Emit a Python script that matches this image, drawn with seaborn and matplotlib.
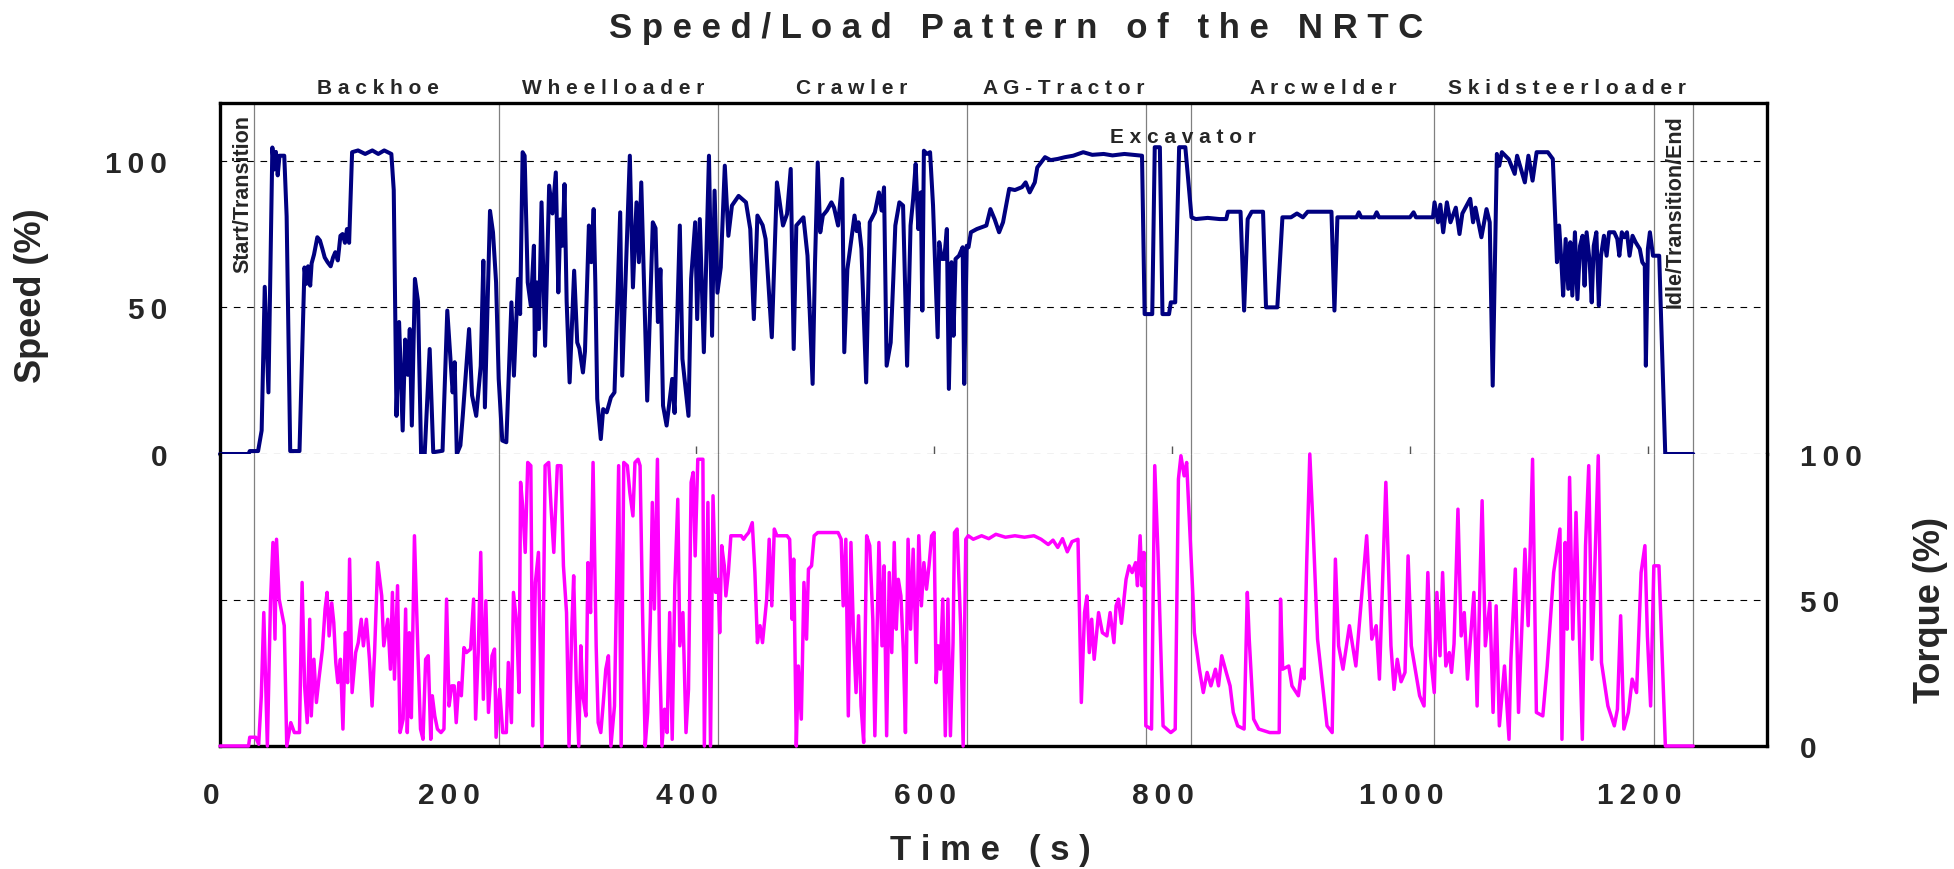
import matplotlib
matplotlib.use("Agg")
import matplotlib.pyplot as plt
import matplotlib.transforms as mtransforms
import numpy as np
import pandas as pd
import seaborn as sns

# ---------------- data ----------------
speed_time = [0, 24, 25, 32, 35, 37.6, 40.7, 44, 45.5, 47, 48.5, 50, 54, 56, 59, 66.8, 71, 72.5, 74, 75.8, 77, 79, 81.8, 84, 86, 88, 90.4, 93, 95, 96.9, 99, 101.2, 103, 105, 106.7, 108.5, 111, 116, 122, 128, 133, 138, 144, 146, 148.3, 150.5, 153.5, 155.6, 157.8, 159.5, 161.2, 163.8, 166.4, 169, 172, 176.2, 179.2, 187, 191, 195.5, 197.2, 199, 202, 204, 209.3, 211.8, 215.3, 219.1, 221.3, 222.6, 226.9, 229.4, 232, 234.2, 237.2, 240.6, 244.9, 247, 250.4, 252.2, 254.3, 256, 258.6, 261.2, 263.8, 264.6, 266.3, 268, 270.2, 273.2, 276.6, 279.4, 282.2, 284.3, 286, 287.8, 289.5, 291.3, 293.8, 297.6, 300.2, 302, 305, 306.7, 310, 312, 314, 315.4, 317, 320, 322, 325, 328.5, 331.5, 336.3, 338, 344.4, 347, 350, 352, 354, 359, 363.7, 366, 368, 370.1, 372.3, 375.3, 380, 382, 386.4, 388.6, 393.7, 395.9, 399.3, 401, 403.2, 406.6, 410.9, 413.5, 415.6, 418, 420.8, 424.2, 427.2, 430.2, 435.8, 442, 445.6, 448.6, 451.6, 456, 458.5, 463.7, 468, 473.1, 476.5, 479.6, 482.1, 484.3, 490.3, 493.7, 498, 500, 502.3, 504.4, 506.6, 510, 513.8, 516, 519.4, 522.9, 524.6, 527.2, 530.6, 533.2, 535, 536.6, 539, 543, 546, 550.3, 553.7, 556, 558, 560.2, 563.6, 565.8, 567.5, 570.9, 574, 577.4, 580.3, 582.5, 584.6, 586.8, 588.9, 590.2, 591.5, 594, 596.7, 599.2, 603.1, 604.4, 606.5, 608.6, 610.8, 612.5, 614.7, 616.4, 618.1, 621, 624.1, 625.4, 627.5, 629, 631, 636, 644, 647.4, 651, 654.7, 658, 663.2, 668, 674, 677, 680.4, 684.7, 686.8, 693.3, 698, 704, 710, 717, 725.4, 733, 742.6, 750, 760, 774.8, 777, 783.4, 785.5, 789.8, 792, 797.5, 799, 802.7, 806, 811.2, 816.4, 820, 830, 840, 845.6, 847, 857.6, 860.6, 863.6, 867, 876.5, 879, 888.5, 892.8, 900, 905, 910, 914, 923, 934, 936.5, 939, 955, 957, 959, 970, 972, 974, 1000, 1003, 1005, 1019.3, 1020.6, 1023.6, 1025.5, 1027.9, 1031, 1034, 1038.5, 1041.6, 1044, 1050.6, 1053, 1055, 1060, 1064.3, 1067, 1069.5, 1073, 1075, 1077.2, 1083, 1088, 1090, 1096.5, 1099.5, 1103, 1106.4, 1115.8, 1120, 1123.5, 1125.3, 1127.4, 1128.7, 1130.8, 1133, 1134.7, 1136.4, 1138.6, 1140.7, 1142.9, 1145, 1146.7, 1148.4, 1151, 1152.7, 1154.4, 1156.6, 1158.7, 1160.5, 1163, 1165.2, 1167.3, 1171.6, 1174.2, 1175.9, 1178, 1180.2, 1182.3, 1184.5, 1187, 1189.6, 1193.1, 1195.2, 1197.3, 1198.2, 1199.9, 1201.6, 1204.2, 1209.4, 1214.5, 1238]
speed_pct = [0, 0, 1, 1, 8, 57, 21, 104.5, 97, 103, 95, 101.7, 101.7, 81, 1, 1, 63.6, 58, 64, 57.4, 65, 68, 73.9, 72.8, 70, 67, 65.4, 64, 67, 68.8, 66, 74.4, 75, 72, 76.7, 72, 102.9, 103.5, 102.3, 103.5, 102.3, 103.5, 102.3, 90, 13, 45, 8, 39, 27, 42.6, 9.7, 59.7, 52, 0, 0, 35.8, 0.6, 1.1, 48.9, 21, 31.3, 0, 2.9, 13, 42.6, 20, 13, 30, 65.9, 15.9, 82.9, 75.6, 58.5, 25.6, 4.6, 4, 51.7, 26.7, 59.7, 47.7, 102.9, 101.7, 58.5, 50.6, 71, 33.5, 58.5, 42.6, 85.8, 36.9, 91.5, 82, 96, 55.1, 80, 71, 92, 52, 24.4, 62.5, 38, 36, 27.8, 35, 77.9, 65.4, 83.5, 58.5, 18.8, 5.1, 15.3, 14.2, 19.3, 21, 82.4, 26.7, 101.7, 56.8, 85.8, 65.4, 92.6, 18.2, 79, 77, 45, 63, 16.5, 9.7, 25.6, 14, 77.9, 32.4, 13, 59.7, 79, 46, 80.1, 34.7, 101.7, 40.3, 89.8, 55, 63.6, 98.3, 74.4, 84.7, 88, 85.8, 76.7, 46, 81.3, 78, 73.3, 39.8, 92.6, 77.9, 81.8, 97.2, 35.8, 77.9, 80.7, 67.6, 23.9, 65, 99.4, 75.6, 81.3, 83, 85.8, 84, 77.9, 93.8, 34.7, 63, 73.3, 81.3, 76, 79, 70, 24.4, 79, 82.4, 89.2, 83, 90.9, 30.1, 38, 59.7, 77.9, 85.8, 84.7, 30.1, 77.9, 87, 98.9, 76.7, 89.2, 48.9, 103.4, 102.3, 102.9, 84.7, 39.8, 72.2, 66.5, 66.5, 76.7, 22.2, 65.4, 40.3, 66.5, 67.6, 70.5, 23.9, 71, 70.5, 75.6, 76.7, 77.9, 83.5, 80, 75.6, 79, 90.4, 90, 91, 92.6, 89.2, 92.6, 97.7, 101.2, 100.2, 100.6, 101.2, 101.7, 102.9, 102, 102.3, 101.8, 102.3, 101.7, 47.7, 47.7, 104.6, 104.6, 47.7, 47.7, 51.7, 51.7, 104.6, 104.6, 80.7, 80.1, 80.5, 80.1, 80.1, 82.6, 82.6, 48.9, 80.1, 82.6, 82.6, 50, 50, 80.7, 80.7, 82, 80.7, 82.6, 82.6, 82.6, 48.9, 80.7, 80.7, 82.4, 80.7, 80.7, 82.4, 80.7, 80.7, 82.4, 80.7, 80.7, 85.8, 79, 85, 75.6, 85.8, 79, 84, 75, 82, 87, 79, 84, 73.9, 83.5, 79, 23.3, 102.3, 98.3, 102.9, 100.5, 95.5, 101.7, 92.6, 101.7, 93.2, 102.9, 102.9, 100.6, 65.4, 77.9, 64.2, 54, 73.3, 56.3, 72.2, 54, 75.6, 52.8, 71, 74.4, 57.4, 75.6, 65.4, 51.7, 71, 75.6, 50.6, 67.6, 74.4, 67.6, 75.6, 75.6, 73.3, 67.6, 75.6, 73.9, 75.6, 67.6, 74.4, 72.2, 69.9, 65.4, 64.2, 30.1, 69.9, 75.6, 67.6, 67.6, 0, 0]

torque_time = [0, 24, 25, 30, 32.5, 34.7, 36.8, 39.8, 42.4, 44.5, 46.2, 47.5, 49.7, 54, 56.1, 59.5, 62.5, 66.8, 69, 71.1, 73.3, 75.4, 76.7, 78.9, 81, 83.1, 86.1, 88.3, 90, 91.7, 93.9, 95.6, 97.3, 99, 101.2, 103.3, 105.4, 107.2, 108.9, 111, 114, 116.2, 118.7, 120.5, 123, 125.6, 127.8, 129.9, 132.5, 135.9, 137.6, 141, 143.2, 144.9, 146.6, 149.2, 151.3, 153.9, 156, 157.4, 159.1, 160.8, 163.4, 166.4, 168.5, 170.6, 172.8, 175, 177.1, 178.4, 180.5, 182.7, 185.7, 188.2, 190.4, 192.5, 194.7, 196.8, 198.5, 200.7, 202.8, 205, 207.1, 210.6, 213.1, 214.8, 217, 219.1, 221.3, 223.4, 225.6, 228.6, 230.7, 232, 235, 237.6, 240.6, 242.3, 244.9, 246.6, 249.2, 251.3, 252.6, 254.3, 256.5, 258.6, 261.2, 262.9, 265, 267.6, 270.6, 273.2, 276.2, 278.3, 280.5, 283.5, 286.5, 288.6, 291.2, 293.3, 295.5, 297.2, 299.3, 301.5, 303.2, 304.9, 307.5, 309.2, 311.4, 313.5, 316.1, 317.8, 320, 322.1, 324.2, 326.4, 328.5, 331.5, 335, 337.1, 339.3, 342.3, 344.4, 347, 348.7, 351.3, 353, 355.1, 357.3, 359.4, 361.6, 363.3, 365, 367.6, 369.3, 371.4, 373.6, 375.7, 377.9, 380, 382.2, 384.7, 386.4, 389, 391.6, 393.7, 395.9, 397.6, 399.3, 401.5, 405.8, 407, 410, 412.2, 414.3, 416.5, 418.6, 419.9, 421.6, 423.8, 425.1, 427.2, 429.3, 438, 440, 442, 444.3, 447.3, 449.5, 451.6, 453.8, 455.9, 459.4, 461.5, 463.7, 465.8, 468, 476.5, 478.7, 480.8, 482.1, 484.3, 486, 488.5, 490.7, 492.9, 494.5, 497.1, 499.3, 502.3, 519.4, 522, 523.7, 525.9, 528, 530.2, 532.3, 534.5, 536.6, 538.7, 540.9, 543.4, 546, 548.6, 550.3, 553.7, 556.3, 558, 560.2, 562.4, 564.5, 566.6, 568.3, 570, 572.2, 574.3, 576, 578.2, 580.3, 582.5, 585.1, 587.2, 589.4, 591.5, 593.7, 595.8, 598, 600.1, 601.8, 603.5, 605.2, 607.4, 609.5, 611.7, 613.8, 616, 617.2, 619.4, 622.4, 624.5, 626.7, 628.8, 633, 640, 646, 652, 660, 668, 676, 684, 690, 696, 700, 704, 708, 712, 716, 721, 723.8, 726.5, 728.5, 730.5, 732.5, 734.6, 738.3, 741.5, 745.3, 748, 751.2, 753, 755, 757.5, 761.4, 764, 766.5, 769.4, 771, 773.2, 774.8, 776.4, 778, 782.8, 785.5, 788.2, 792.5, 799, 802.7, 805.4, 807.5, 810.2, 812.3, 817.7, 818.8, 823, 826.3, 829.5, 832.7, 836.5, 839.1, 841.8, 845.6, 848.8, 851.5, 855.2, 860.6, 863.3, 864.9, 868.6, 872.9, 882.1, 890.1, 891.2, 893, 898.1, 900.8, 906.2, 908.9, 911, 913.2, 915.8, 918.5, 920.7, 922.3, 930.3, 934.6, 937.3, 940, 943.7, 949.1, 954.5, 963.6, 967.9, 971.6, 974.3, 979.7, 984, 986.6, 989.3, 992.5, 995.8, 998.4, 1001.1, 1008.1, 1011.8, 1015, 1017.2, 1020.4, 1022.6, 1025.2, 1027.4, 1030.1, 1033, 1034.9, 1037, 1040.3, 1043, 1045.6, 1048.3, 1053.7, 1056.4, 1059, 1060.6, 1063.3, 1067.1, 1069.8, 1072.4, 1075.1, 1079.4, 1083.2, 1084.8, 1088.5, 1091.2, 1096.6, 1099.3, 1103, 1106.2, 1111.6, 1115.3, 1120.7, 1126, 1127.7, 1130.4, 1132, 1134.1, 1136.8, 1139.5, 1144.8, 1147.5, 1150.2, 1152.9, 1158.2, 1160.9, 1166.3, 1171.7, 1174.3, 1177, 1179.7, 1183.5, 1186.7, 1190.4, 1194.2, 1197.4, 1199.5, 1202.2, 1204.9, 1209.2, 1214.6, 1238]
torque_pct = [0, 0, 3, 3, 0.6, 17, 45.7, 0, 49, 69.7, 36.6, 70.8, 50.3, 41.2, 0, 8, 4.6, 4.6, 56, 20.6, 8, 43.4, 10.3, 29.7, 14.9, 22.9, 33.2, 46.9, 52.6, 37.7, 49, 42.3, 28.6, 21.7, 29.7, 5.8, 38.8, 21.7, 64, 18.3, 32, 35.4, 43.4, 34.3, 43.4, 29.7, 13.7, 32, 62.8, 51.4, 34.3, 43.4, 26.3, 52.6, 22.9, 54.9, 4.6, 9.2, 46.9, 4.6, 38.8, 9.7, 72, 30.9, 5.8, 2.3, 29.7, 30.9, 2.3, 17.2, 10.3, 5.8, 4.6, 5.8, 50.3, 13.7, 20.6, 20.6, 8, 21.7, 17.2, 33.7, 32, 33.2, 50.3, 9.2, 32, 66.3, 16, 49.7, 11.5, 30.9, 33.2, 3, 19.4, 4.6, 4.6, 28.6, 8, 52.6, 42.3, 18.3, 90.3, 82.3, 66.3, 97.1, 96, 6.9, 56, 66.3, 0, 96, 97.1, 81.1, 66.3, 96, 96, 61.7, 45.7, 0, 38.8, 58.3, 22.9, 0, 34.3, 17.2, 10.3, 62.8, 45.7, 97.1, 34.3, 8, 4.6, 14.9, 26.3, 30.9, 0, 13.7, 96, 0, 97.1, 96, 86.8, 78.8, 97.1, 98.2, 96, 45.7, 0, 11.5, 43.4, 83.4, 46.9, 98.2, 34.3, 0, 12.6, 4.6, 45.7, 2.3, 54.9, 84.5, 34.3, 45.7, 4.6, 19.4, 90.3, 93.7, 65.1, 98.2, 98.2, 0, 83.4, 0, 85.7, 52.6, 57.1, 38.8, 68.6, 61.7, 51.4, 59.4, 72, 72, 70.8, 72, 73.1, 76.5, 59.4, 35.4, 41.2, 35.4, 50.3, 70.8, 48, 74.3, 72, 72, 70.8, 43.4, 64, 0, 27.4, 9.2, 56, 36.6, 60.6, 61.7, 72, 73.1, 73.1, 70.8, 48, 70.8, 10.3, 69.7, 38.8, 18.3, 44.6, 13.7, 1.2, 72, 68.6, 43.4, 3.5, 69.7, 34.3, 61.7, 3.5, 59.4, 32, 69.7, 40, 57.1, 51.4, 32, 4.6, 70.8, 40, 67.4, 28.6, 72, 48, 62.8, 53.7, 61.7, 72, 73.1, 21.7, 34.3, 26.3, 50.3, 3.5, 50.3, 3.5, 35.4, 73.1, 74.3, 41.2, 0, 70.8, 72, 70.8, 72, 71, 72.5, 71.5, 72, 71.5, 72, 70.8, 69, 70.5, 68, 71, 66.5, 70, 70.8, 14.9, 45.7, 51.4, 32, 43.4, 29.7, 45.7, 38.8, 37.7, 45.7, 35.4, 48, 50.3, 42, 57.1, 61.7, 59.4, 62.8, 54.9, 72, 54.9, 66.3, 6.9, 5.8, 96, 66.3, 6.9, 4.6, 5.8, 91.4, 99.4, 92.5, 97.1, 50.3, 38.8, 26.3, 18.3, 25.2, 20.6, 26.3, 20.6, 30.9, 25.2, 20.6, 11.5, 6.9, 5.8, 52.6, 36.6, 9.2, 5.8, 4.6, 4.6, 50.3, 26.3, 27.4, 20.6, 17.2, 26.3, 23, 62.8, 100, 75.4, 52.6, 36.6, 6.9, 4.6, 64, 34.3, 26.3, 41.2, 27.4, 72, 36.6, 41.2, 22.9, 90.3, 34.3, 19.4, 29.7, 22, 25.2, 65.1, 34.3, 17.2, 13.7, 59.4, 30.9, 18.3, 52.6, 30.9, 59.4, 27.4, 32, 25.2, 35, 81.1, 37.7, 45.7, 22.9, 52.6, 13.7, 59.4, 84, 34.3, 49.1, 11.5, 48, 6.9, 27.4, 2.3, 29.7, 60.6, 11.5, 67.4, 41.2, 98.2, 11.5, 10.3, 27.4, 59.4, 74.3, 2.3, 69.7, 40, 92, 36.6, 80, 2.3, 68.6, 96, 29.7, 99.4, 28.6, 13.7, 6.9, 12.6, 44.6, 5.8, 11.5, 22.9, 18.3, 59.4, 68.6, 37.7, 13.7, 61.7, 61.7, 0, 0]

segment_bounds = [28.5, 234.5, 418.5, 627.5, 778, 816, 1020, 1205, 1238]
segment_names = ["Backhoe", "Wheelloader", "Crawler", "AG-Tractor", "Arcwelder", "Skidsteerloader"]
segment_label_x = [133, 330, 531, 709, 927, 1132]
x_ticks = [0, 200, 400, 600, 800, 1000, 1200]
pct_ticks = [0, 50, 100]

# ---------------- style ----------------
sns.set_theme(style="white")
plt.rcParams["font.family"] = ["Liberation Sans", "DejaVu Sans"]
plt.rcParams["font.weight"] = "bold"

W, H = 1954, 870
fig = plt.figure(figsize=(W / 100, H / 100), dpi=100)
fig.patch.set_facecolor("white")

L, R = 220, 1767
TOP, MID, BOT = 104, 455, 747
ax_s = fig.add_axes([L / W, (H - MID) / H, (R - L) / W, (MID - TOP) / H])
ax_t = fig.add_axes([L / W, (H - BOT) / H, (R - L) / W, (BOT - MID) / H])

speed_df = pd.DataFrame({"time": speed_time, "speed": speed_pct})
torque_df = pd.DataFrame({"time": torque_time, "torque": torque_pct})

for ax in (ax_s, ax_t):
    ax.set_facecolor("white")
    ax.set_xlim(0, 1300)
    for b in segment_bounds:
        ax.axvline(b, color="#808080", lw=0.9, zorder=1)

dash = dict(color="black", lw=0.8, dashes=(6, 6), zorder=1.5)
ax_s.axhline(50, **dash)
ax_s.axhline(100, **dash)
ax_s.axhline(0, **dash)
ax_t.axhline(50, **dash)

sns.lineplot(data=speed_df, x="time", y="speed", ax=ax_s, color="#000080",
             lw=2.9, estimator=None, sort=False, clip_on=False, zorder=3)
sns.lineplot(data=torque_df, x="time", y="torque", ax=ax_t, color="#FF00FF",
             lw=2.5, estimator=None, sort=False, clip_on=False, zorder=3)

ax_s.set_ylim(0, (MID - TOP) / 2.933)
ax_t.set_ylim(0, 100)

thin = "\u2009"
def spaced(s, sep=" "):
    return sep.join(s)

# spines
for ax in (ax_s, ax_t):
    for sp in ax.spines.values():
        sp.set_color("black")
        sp.set_linewidth(2.4)
ax_s.spines["bottom"].set_visible(False)
ax_t.spines["top"].set_visible(False)

# speed axis ticks
ax_s.set_yticks(pct_ticks)
ax_s.set_yticklabels([thin.join(str(v)) for v in pct_ticks])
ax_s.tick_params(axis="y", length=0, pad=38, labelsize=21.5)
ax_s.set_xticks([200, 400, 600, 800, 1000, 1200])
ax_s.tick_params(axis="x", direction="in", length=6, width=1, color="#555555",
                 labelbottom=False, bottom=True)
ax_s.set_xlabel("")
ax_s.set_ylabel("")

# torque axis ticks
ax_t.yaxis.tick_right()
ax_t.set_yticks(pct_ticks)
ax_t.set_yticklabels([thin.join(str(v)) for v in pct_ticks])
ax_t.tick_params(axis="y", length=0, pad=24, labelsize=21.5)
ax_t.set_xticks(x_ticks)
ax_t.set_xticklabels([thin.join(str(v)) + thin * 3 for v in x_ticks])
ax_t.tick_params(axis="x", length=0, pad=25, labelsize=21.5)
ax_t.set_xlabel("")
ax_t.set_ylabel("")
for lab in ax_s.get_yticklabels() + ax_t.get_yticklabels() + ax_t.get_xticklabels():
    lab.set_fontweight("bold")

# in-plot annotations
ax_s.text(28, 115.9, "Start/Transition", rotation=90, ha="right", va="top",
          fontsize=15.5, fontweight="bold", zorder=5)
ax_s.text(1223, 115.9, "Idle/Transition/End", rotation=90, ha="center", va="top",
          fontsize=15.5, fontweight="bold", zorder=5)
ax_s.text(809, 108.4, spaced("Excavator"), ha="center", va="center",
          fontsize=15, fontweight="bold", zorder=5)

trans = mtransforms.blended_transform_factory(ax_s.transData, fig.transFigure)
for name, xpos in zip(segment_names, segment_label_x):
    fig.text(xpos, (H - 89) / H, spaced(name), transform=trans, ha="center",
             va="center", fontsize=15, fontweight="bold")

fig.text(1016 / W, 1 - 38 / H, spaced("Speed/Load Pattern of the NRTC"),
         ha="center", va="baseline", fontsize=25, fontweight="bold")
fig.text(990 / W, 1 - 860 / H, spaced("Time (s)"), ha="center", va="baseline",
         fontsize=25, fontweight="bold")
fig.text(32 / W, 1 - 296 / H, "Speed (%)", rotation=90, ha="center", va="center",
         fontsize=26, fontweight="bold")
fig.text(1930 / W, 1 - 610 / H, "Torque (%)", rotation=90, ha="center", va="center",
         fontsize=26, fontweight="bold")

fig.savefig("out.png", dpi=100, facecolor="white")
